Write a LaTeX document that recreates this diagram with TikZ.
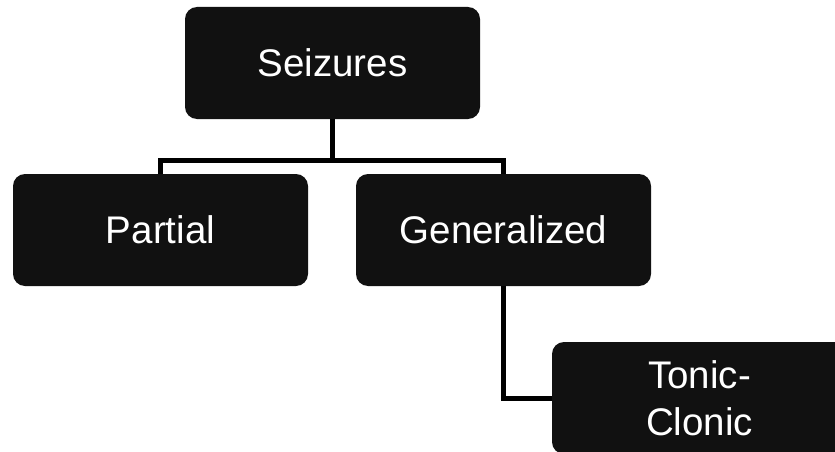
\documentclass[tikz,border=0pt]{standalone}
\usepackage{fontspec}
\setmainfont{Liberation Sans}
\usepackage{xcolor}
\usetikzlibrary{positioning, calc}

\definecolor{boxfill}{HTML}{111111}

\begin{document}
\begin{tikzpicture}[x=1pt, y=-1pt]
\tikzstyle{seizbox}=[draw=none, fill=boxfill, rounded corners=12pt, minimum height=112pt, minimum width=295pt, text=white, align=center, font=\fontsize{38.5}{47}\selectfont]
\tikzstyle{link}=[line width=5pt, black]

\useasboundingbox (0,0) rectangle (835,452);

\node (s0) at (332.5,63) [seizbox] {Seizures};
\node (s1) at (160.5,230) [seizbox] {Partial};
\node (s2) at (503.5,230) [seizbox] {Generalized};
\node (s3) at (699.5,398) [seizbox] {Tonic-\\Clonic};

\coordinate (bar) at (332.5,160);

\draw [link] (s0.south) -- (bar);
\draw [link] (s1.north) |- (bar) -| (s2.north);
\draw [link] (s2.south) |- (s3.west);
\end{tikzpicture}
\end{document}
